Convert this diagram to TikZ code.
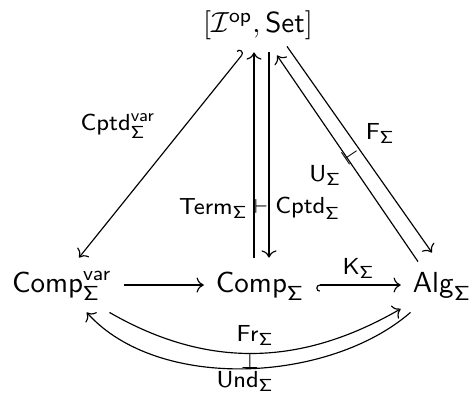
\documentclass[tikz,border=0pt]{standalone}
\usepackage{amsmath,amssymb}
\usepackage{tikz}
\usetikzlibrary{arrows.meta}
\newcommand{\sig}{\mathsf{\Sigma}}

\begin{document}
\begin{tikzpicture}[
  x=0.3448pt, y=-0.3448pt,
  obj/.style={anchor=base, inner xsep=4pt, inner ysep=3pt, text height=9pt, text depth=3.5pt},
  lab/.style={font=\fontsize{8}{9.6}\selectfont, inner sep=2pt},
  adj/.style={font=\scriptsize, inner sep=0pt},
  arr/.style={-{Computer Modern Rightarrow}, line width=0.4pt},
  harr/.style={arr, {Hooks[left]}-{Computer Modern Rightarrow}}
]
\useasboundingbox (0,0) rectangle (472,394);
% objects
\node[obj] (psh) at (258,33) {$[\mathcal{I}^{\mathsf{op}},\mathsf{Set}]$};
\node[obj] (cvar) at (62,293) {$\mathsf{Comp}^{\mathsf{var}}_{\sig}$};
\node[obj] (comp) at (260,293) {$\mathsf{Comp}_{\sig}$};
\node[obj] (alg) at (442,293) {$\mathsf{Alg}_{\sig}$};
% left diagonal
\draw[harr] ([shift={(-14,0)}]psh.south) -- node[lab, pos=0.47, above left, inner sep=3.5pt]{$\mathsf{Cptd}^{\mathsf{var}}_{\sig}$} ([shift={(17,0)}]cvar.north);
% vertical adjunction
\draw[arr] ([shift={(-6,0)}]comp.north) -- node[lab, pos=0.24, left]{$\mathsf{Term}_{\sig}$} ([shift={(-4,0)}]psh.south);
\draw[arr] ([shift={(11,0)}]psh.south) -- node[lab, pos=0.76, right]{$\mathsf{Cptd}_{\sig}$} ([shift={(9,0)}]comp.north);
\node[adj] (vt) at (261,206) {$\vdash$};
% right diagonal adjunction
\draw[arr] ([shift={(29,-6)}]psh.south) -- node[lab, pos=0.5, above right]{$\mathsf{F}_{\sig}$} ([shift={(-10,-5)}]alg.north);
\draw[arr] ([shift={(-24,4)}]alg.north) -- node[lab, pos=0.5, below left]{$\mathsf{U}_{\sig}$} ([shift={(19,3)}]psh.south);
\node[adj, rotate=-56] (dt) at (351,155) {$\perp$};
% bottom row
\draw[arr] (cvar) -- (comp);
\draw[harr] (comp) -- node[lab, above]{$\mathsf{K}_{\sig}$} (alg);
\draw[arr] (cvar) to[out=-30, in=-150] node[lab, above, inner sep=2.5pt]{$\mathsf{Fr}_{\sig}$} (alg);
\draw[arr] (alg) to[out=-139, in=-48, looseness=0.85] node[lab, below, inner sep=0.8pt]{$\mathsf{Und}_{\sig}$} (cvar);
\node[adj] (bt) at (250,361) {$\perp$};
\end{tikzpicture}
\end{document}
